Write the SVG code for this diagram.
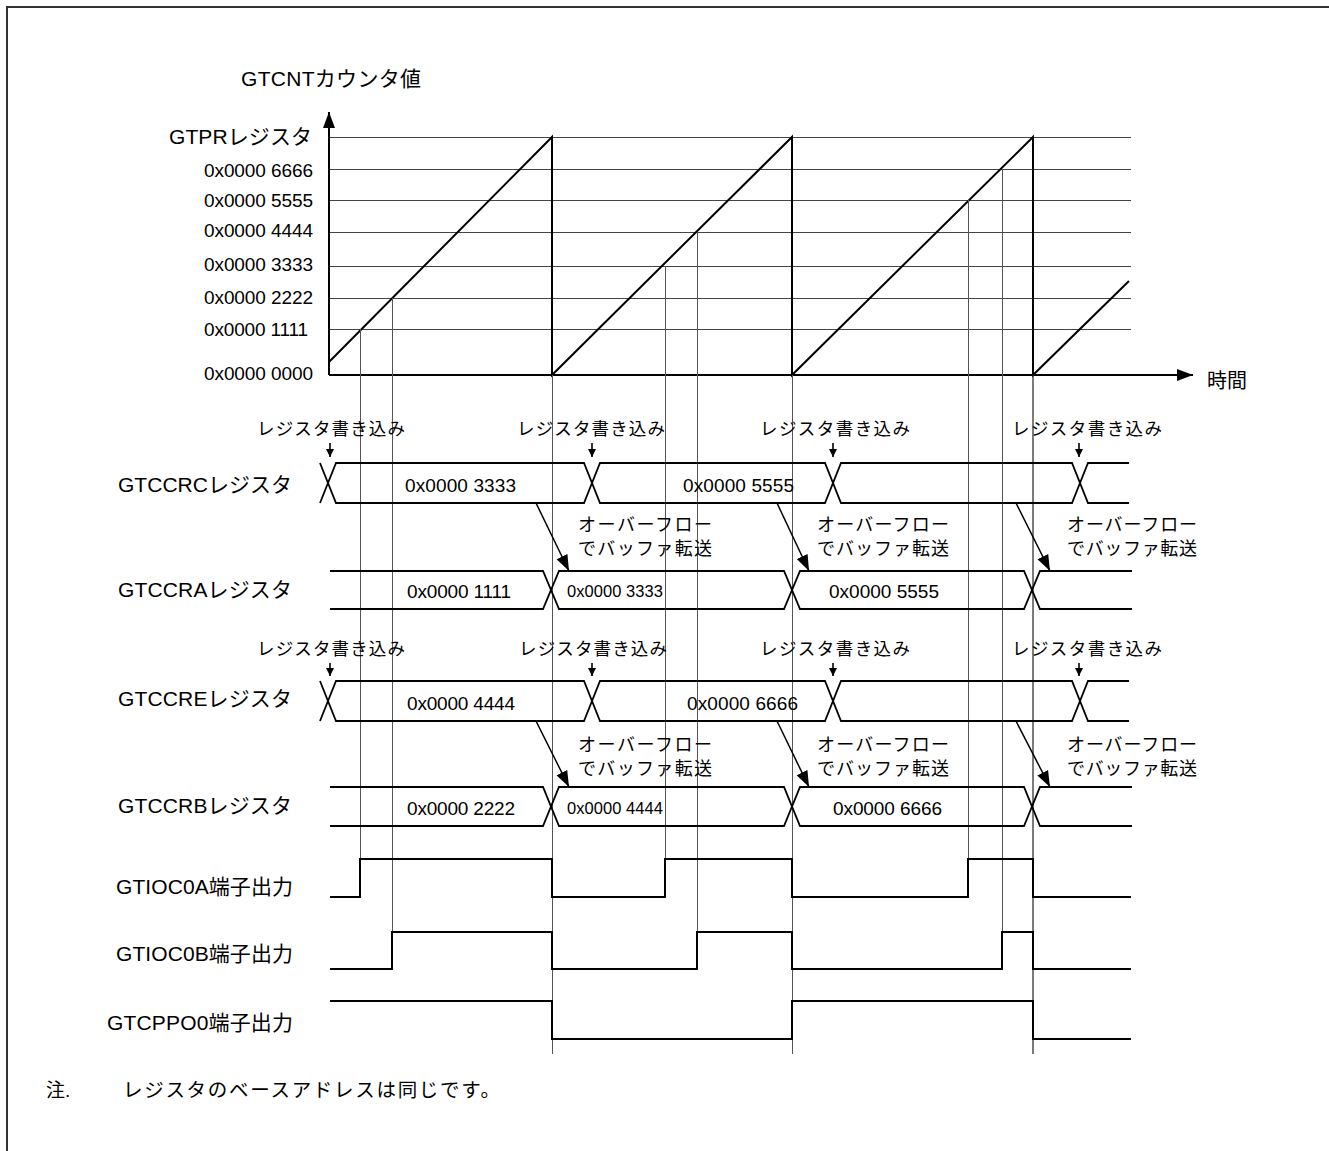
<svg xmlns="http://www.w3.org/2000/svg" width="1329" height="1151" viewBox="0 0 1329 1151">
<defs>
<marker id="ahBig" viewBox="0 0 16 16" refX="16" refY="8" markerWidth="16" markerHeight="16" markerUnits="userSpaceOnUse" orient="auto"><path d="M0,2 L16,8 L0,14 Z" fill="#000"/></marker>
<marker id="ahSmall" viewBox="0 0 8 8" refX="8" refY="4" markerWidth="8" markerHeight="8" markerUnits="userSpaceOnUse" orient="auto"><path d="M0,0 L8,4 L0,8 Z" fill="#000"/></marker>
</defs>
<style>
text{font-family:"Liberation Sans","Noto Sans CJK JP",sans-serif;fill:#000}
.lab{font-size:21px}
.val{font-size:19px}
.sval{font-size:16.5px}
.wr{font-size:17.5px}
.ov{font-size:18px}
.grid{stroke:#444;stroke-width:1;fill:none;shape-rendering:crispEdges}
.vg{stroke:#555;stroke-width:1;fill:none;shape-rendering:crispEdges}
.saw{stroke:#000;stroke-width:2;fill:none}
.bus{stroke:#000;stroke-width:1.8;fill:none}
.sig{stroke:#000;stroke-width:2;fill:none}
.ax{stroke:#000;stroke-width:2;fill:none}
</style>
<rect width="1329" height="1151" fill="#fff"/>
<path d="M7,1151 V7 H1329" fill="none" stroke="#333" stroke-width="2"/>

<g id="counter-chart">
<g id="grid">
<path class="grid" d="M329,137.5 H1131 M329,169.5 H1131 M329,200.5 H1131 M329,232.5 H1131 M329,266.5 H1131 M329,298.5 H1131 M329,329.5 H1131"/>
</g>
<g id="axes">
<path class="ax" d="M329,375 V112" marker-end="url(#ahBig)"/>
<path class="ax" d="M329,375 H1193" marker-end="url(#ahBig)"/>
<text x="241" y="86" class="lab" textLength="180">GTCNTカウンタ値</text>
<text x="1207" y="388" style="font-size:20px" textLength="40">時間</text>
</g>
<g id="y-labels" class="val">
<text x="169" y="144" class="lab" textLength="143">GTPRレジスタ</text>
<text x="204" y="177" textLength="109">0x0000 6666</text>
<text x="204" y="207" textLength="109">0x0000 5555</text>
<text x="204" y="237" textLength="109">0x0000 4444</text>
<text x="204" y="271" textLength="109">0x0000 3333</text>
<text x="204" y="304" textLength="109">0x0000 2222</text>
<text x="204" y="336" textLength="104">0x0000 1111</text>
<text x="204" y="380" textLength="109">0x0000 0000</text>
</g>
<g id="sawtooth">
<path class="saw" d="M329,362 L552,137 L552,375 L792,137 L792,375 L1033,137 L1033,375 L1129,281"/>
</g>
</g>

<g id="timing-guides">
<path class="vg" d="M360.5,329 V859 M392.5,298 V932 M552.5,375 V1054 M665.5,266 V859 M697.5,232 V932 M792.5,375 V1054 M968.5,200 V859 M1002.5,169 V932"/>
<path d="M1033,375 V1054" stroke="#222" stroke-width="1.2" fill="none"/>
</g>

<g id="row-labels" class="lab">
<text x="118" y="492" textLength="174">GTCCRCレジスタ</text>
<text x="118" y="597" textLength="174">GTCCRAレジスタ</text>
<text x="118" y="706" textLength="174">GTCCREレジスタ</text>
<text x="118" y="813" textLength="174">GTCCRBレジスタ</text>
<text x="116" y="894" textLength="177">GTIOC0A端子出力</text>
<text x="116" y="961" textLength="177">GTIOC0B端子出力</text>
<text x="107" y="1030" textLength="186">GTCPPO0端子出力</text>
</g>

<g id="GTCCRC">
<path class="bus" d="M320,463 L336,503 H584 L600,463 H825 L841,503 H1072 L1088,463 H1129 M320,503 L336,463 H584 L600,503 H825 L841,463 H1072 L1088,503 H1129"/>
<text class="val" x="405" y="492" textLength="111">0x0000 3333</text>
<text class="val" x="683" y="492" textLength="111">0x0000 5555</text>
</g>
<g id="GTCCRA">
<path class="bus" d="M330,571 H543 L559,609 H784 L800,571 H1024 L1040,609 H1132 M330,609 H543 L559,571 H784 L800,609 H1024 L1040,571 H1132"/>
<text class="val" x="407" y="598" textLength="104">0x0000 1111</text>
<text class="sval" x="567" y="597" textLength="96">0x0000 3333</text>
<text class="val" x="829" y="598" textLength="110">0x0000 5555</text>
</g>
<g id="GTCCRE">
<path class="bus" d="M320,681 L336,721 H584 L600,681 H825 L841,721 H1072 L1088,681 H1129 M320,721 L336,681 H584 L600,721 H825 L841,681 H1072 L1088,721 H1129"/>
<text class="val" x="407" y="710" textLength="108">0x0000 4444</text>
<text class="val" x="687" y="710" textLength="111">0x0000 6666</text>
</g>
<g id="GTCCRB">
<path class="bus" d="M330,787 H543 L559,826 H784 L800,787 H1024 L1040,826 H1132 M330,826 H543 L559,787 H784 L800,826 H1024 L1040,787 H1132"/>
<text class="val" x="407" y="815" textLength="108">0x0000 2222</text>
<text class="sval" x="567" y="814" textLength="96">0x0000 4444</text>
<text class="val" x="833" y="815" textLength="109">0x0000 6666</text>
</g>

<g id="GTIOC0A">
<path class="sig" d="M330,897 H360 V859 H552 V897 H665 V859 H792 V897 H968 V859 H1033 V897 H1131"/>
</g>
<g id="GTIOC0B">
<path class="sig" d="M330,969 H392 V932 H552 V969 H697 V932 H792 V969 H1002 V932 H1033 V969 H1131"/>
</g>
<g id="GTCPPO0">
<path class="sig" d="M330,1001 H552 V1039 H792 V1001 H1033 V1039 H1131"/>
</g>

<g id="write-labels" class="wr">
<text x="257" y="435" textLength="148">レジスタ書き込み</text>
<text x="517" y="435" textLength="148">レジスタ書き込み</text>
<text x="760" y="435" textLength="150">レジスタ書き込み</text>
<text x="1012" y="435" textLength="150">レジスタ書き込み</text>
<text x="257" y="655" textLength="148">レジスタ書き込み</text>
<text x="519" y="655" textLength="148">レジスタ書き込み</text>
<text x="760" y="655" textLength="150">レジスタ書き込み</text>
<text x="1012" y="655" textLength="150">レジスタ書き込み</text>
</g>

<g id="overflow-labels" class="ov">
<text x="578" y="531" textLength="134">オーバーフロー</text>
<text x="578" y="555" textLength="134">でバッファ転送</text>
<text x="817" y="531" textLength="132">オーバーフロー</text>
<text x="817" y="555" textLength="132">でバッファ転送</text>
<text x="1067" y="531" textLength="130">オーバーフロー</text>
<text x="1067" y="555" textLength="130">でバッファ転送</text>
<text x="578" y="751" textLength="134">オーバーフロー</text>
<text x="578" y="775" textLength="134">でバッファ転送</text>
<text x="817" y="751" textLength="132">オーバーフロー</text>
<text x="817" y="775" textLength="132">でバッファ転送</text>
<text x="1067" y="751" textLength="130">オーバーフロー</text>
<text x="1067" y="775" textLength="130">でバッファ転送</text>
</g>

<g id="connectors" fill="none" stroke="#000">
<g stroke-width="1.6">
<path d="M330,443 V457" marker-end="url(#ahSmall)"/>
<path d="M592,443 V457" marker-end="url(#ahSmall)"/>
<path d="M833,443 V457" marker-end="url(#ahSmall)"/>
<path d="M1079,443 V457" marker-end="url(#ahSmall)"/>
<path d="M330,663 V676" marker-end="url(#ahSmall)"/>
<path d="M592,663 V676" marker-end="url(#ahSmall)"/>
<path d="M833,663 V676" marker-end="url(#ahSmall)"/>
<path d="M1079,663 V676" marker-end="url(#ahSmall)"/>
</g>
<g stroke-width="1.5">
<path d="M536,503 L569,571" marker-end="url(#ahBig)"/>
<path d="M777,503 L809,571" marker-end="url(#ahBig)"/>
<path d="M1016,503 L1050,571" marker-end="url(#ahBig)"/>
<path d="M536,721 L569,787" marker-end="url(#ahBig)"/>
<path d="M777,721 L809,787" marker-end="url(#ahBig)"/>
<path d="M1016,721 L1050,787" marker-end="url(#ahBig)"/>
</g>
</g>

<g id="note">
<text x="46" y="1097" style="font-size:19px">注.</text>
<text x="123" y="1097" style="font-size:19.5px" textLength="377">レジスタのベースアドレスは同じです。</text>
</g>
</svg>
